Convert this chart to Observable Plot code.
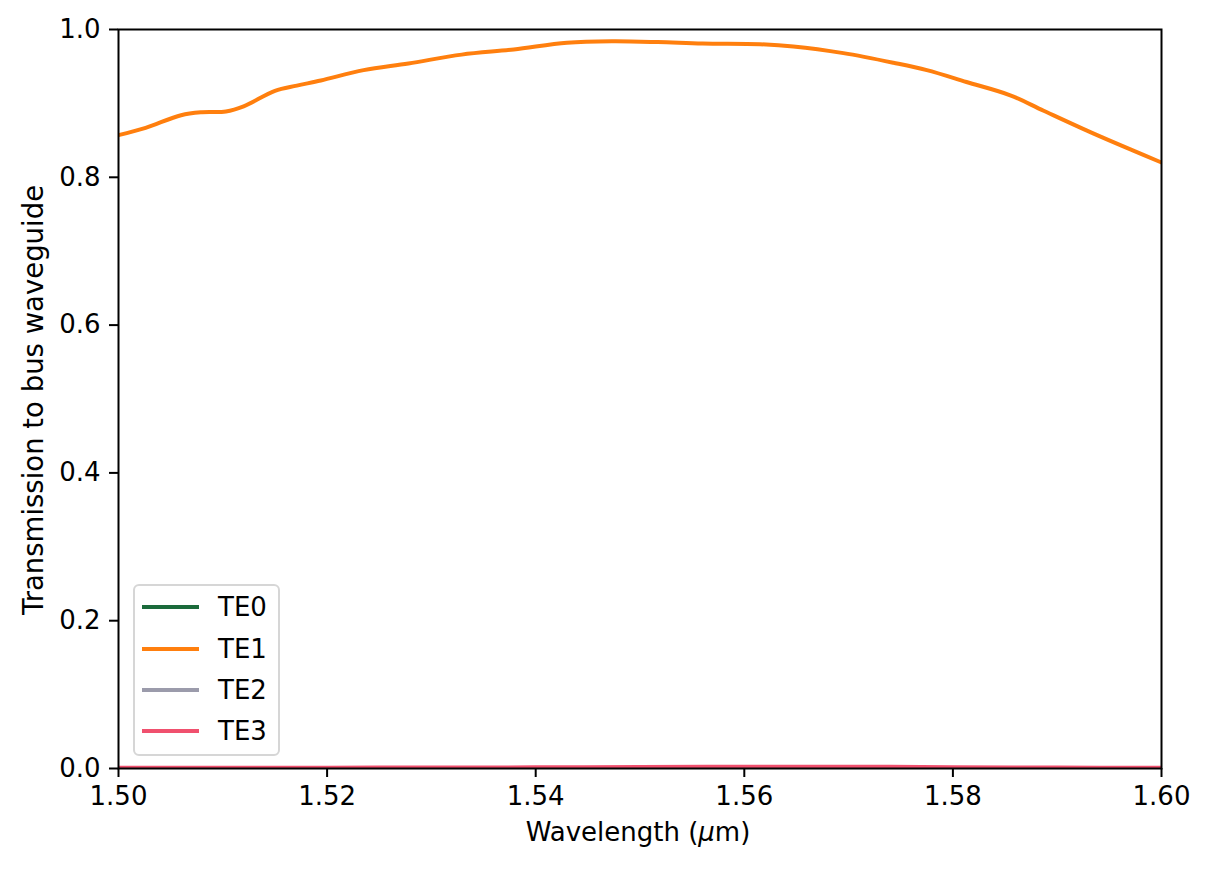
<!DOCTYPE html>
<html>
<head>
<meta charset="utf-8">
<script src="https://cdn.jsdelivr.net/npm/d3@7"></script>
<script src="https://cdn.jsdelivr.net/npm/@observablehq/plot@0.6"></script>
<style>
  html, body { margin: 0; padding: 0; background: #fff; }
  #wrap { position: relative; width: 1209px; height: 871px; font-family: "DejaVu Sans", sans-serif; }
  #legend { position: absolute; left: 133px; top: 584px; width: 143px; height: 168px;
            border: 2px solid #d6d6d6; border-radius: 6px; background: rgba(255,255,255,0.8); box-sizing: content-box; }
  .item { position: absolute; left: 0; height: 30px; }
  .item .sw { position: absolute; left: 7px; width: 57px; height: 4px; top: 13px; }
  .item .lab { position: absolute; left: 83px; top: 0; font-size: 26px; line-height: 30px; color: #000; }
</style>
</head>
<body>
<div id="wrap"></div>
<script>
// ---- data ----
const seriesNames = ["TE0", "TE1", "TE2", "TE3"];
const seriesColors = ["#1b6b3b", "#ff7f0e", "#9b9bab", "#f0506e"];

const te1Wavelength = [1.500, 1.5026, 1.5060, 1.5080, 1.5103, 1.5120, 1.5150, 1.5171, 1.5194, 1.5235,
  1.5278, 1.5329, 1.5379, 1.5430, 1.5473, 1.5517, 1.5560, 1.5615, 1.5647, 1.5695,
  1.5743, 1.5775, 1.5813, 1.5855, 1.5887, 1.5935, 1.5973, 1.600];
const te1Values = [0.857, 0.867, 0.884, 0.888, 0.889, 0.896, 0.917, 0.924, 0.931, 0.945,
  0.954, 0.966, 0.973, 0.982, 0.984, 0.983, 0.981, 0.980, 0.977, 0.968,
  0.955, 0.945, 0.929, 0.911, 0.890, 0.859, 0.836, 0.820];

const lowWavelength = [1.50, 1.51, 1.52, 1.53, 1.54, 1.55, 1.56, 1.57, 1.58, 1.59, 1.60];
const te0Values = [0.0002, 0.0002, 0.0002, 0.0002, 0.0002, 0.0002, 0.0002, 0.0002, 0.0002, 0.0002, 0.0002];
const te2Values = [0.0004, 0.0004, 0.0004, 0.0005, 0.0005, 0.0005, 0.0005, 0.0005, 0.0004, 0.0004, 0.0004];
const te3Values = [0.0010, 0.0010, 0.0011, 0.0013, 0.0016, 0.0020, 0.0025, 0.0024, 0.0018, 0.0012, 0.0010];

const xTicks = [1.50, 1.52, 1.54, 1.56, 1.58, 1.60];
const yTicks = [0.0, 0.2, 0.4, 0.6, 0.8, 1.0];

// ---- tables ----
const te0 = lowWavelength.map((w, i) => ({w, v: te0Values[i]}));
const te1 = te1Wavelength.map((w, i) => ({w, v: te1Values[i]}));
const te2 = lowWavelength.map((w, i) => ({w, v: te2Values[i]}));
const te3 = lowWavelength.map((w, i) => ({w, v: te3Values[i]}));
const tables = [te0, te1, te2, te3];

const chart = Plot.plot({
  width: 1209,
  height: 871,
  marginLeft: 118,
  marginRight: 48,
  marginTop: 29,
  marginBottom: 103,
  style: {fontFamily: "DejaVu Sans, sans-serif", fontSize: "26px", color: "#000", background: "#fff"},
  x: {domain: [1.5, 1.6]},
  y: {domain: [0, 1]},
  marks: [
    ...tables.map((t, i) => Plot.line(t, {x: "w", y: "v", stroke: seriesColors[i], strokeWidth: 4, curve: "catmull-rom", clip: true})),
    Plot.frame({stroke: "#000", strokeWidth: 2}),
    Plot.axisX({ticks: xTicks, tickFormat: d => d.toFixed(2), tickSize: 9, tickPadding: 9, strokeWidth: 2, label: null, fontSize: 26}),
    Plot.axisY({ticks: yTicks, tickFormat: d => d.toFixed(1), tickSize: 9, tickPadding: 9, strokeWidth: 2, label: null, fontSize: 26})
  ]
});

const svg = d3.select(chart);
svg.append("text")
  .attr("x", 638).attr("y", 841)
  .attr("text-anchor", "middle")
  .attr("font-family", "DejaVu Sans, sans-serif")
  .attr("font-size", 26)
  .attr("fill", "#000")
  .call(t => {
    t.append("tspan").text("Wavelength (");
    t.append("tspan").attr("font-style", "italic").text("μ");
    t.append("tspan").text("m)");
  });
svg.append("text")
  .attr("transform", "translate(43,400) rotate(-90)")
  .attr("text-anchor", "middle")
  .attr("font-family", "DejaVu Sans, sans-serif")
  .attr("font-size", 27.5)
  .attr("fill", "#000")
  .text("Transmission to bus waveguide");

const wrap = document.getElementById("wrap");
wrap.appendChild(chart);

const legend = document.createElement("div");
legend.id = "legend";
const rowTops = [6, 48, 89, 130];
seriesNames.forEach((name, i) => {
  const item = document.createElement("div");
  item.className = "item";
  item.style.top = rowTops[i] + "px";
  const sw = document.createElement("div");
  sw.className = "sw";
  sw.style.background = seriesColors[i];
  const lab = document.createElement("div");
  lab.className = "lab";
  lab.textContent = name;
  item.appendChild(sw);
  item.appendChild(lab);
  legend.appendChild(item);
});
wrap.appendChild(legend);
</script>
</body>
</html>
